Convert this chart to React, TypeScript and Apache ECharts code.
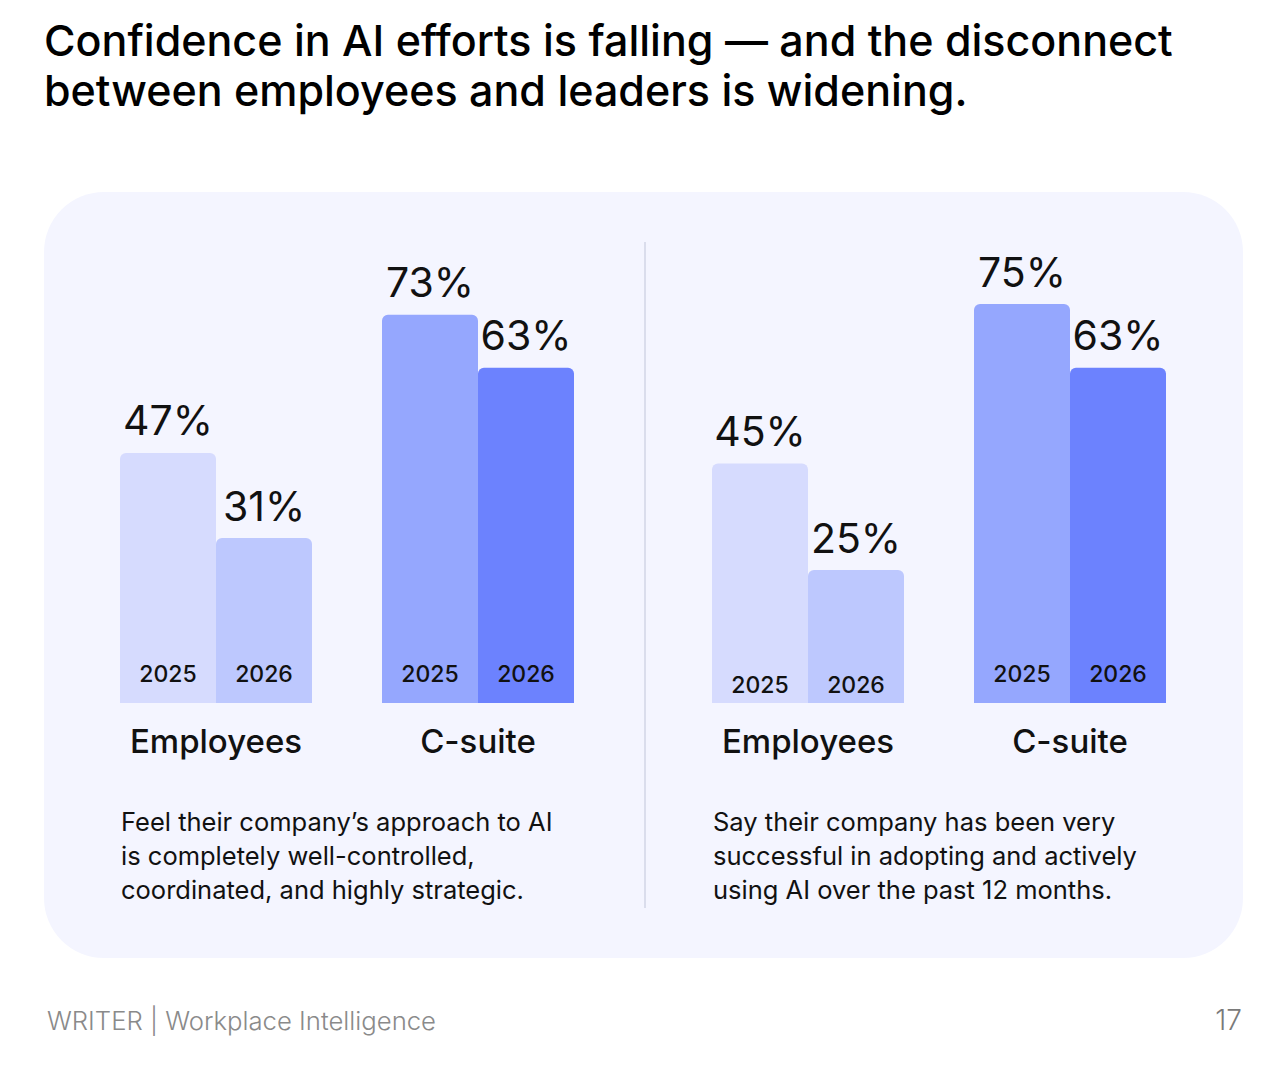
import { useEffect, useRef } from 'react';
import * as echarts from 'echarts';

// ---- data ----
const categories = ['Employees', 'C-suite'];
const years = ['2025', '2026'];
const controlled2025 = [47, 73];
const controlled2026 = [31, 63];
const adopted2025 = [45, 75];
const adopted2026 = [25, 63];

const title = [
  'Confidence in AI efforts is falling — and the disconnect',
  'between employees and leaders is widening.',
];
const leftNote = [
  'Feel their company’s approach to AI',
  'is completely well-controlled,',
  'coordinated, and highly strategic.',
];
const rightNote = [
  'Say their company has been very',
  'successful in adopting and actively',
  'using AI over the past 12 months.',
];
const footer = 'WRITER | Workplace Intelligence';
const pageNo = '17';

// ---- style ----
const FONT = 'Inter, "Noto Sans", sans-serif';
const barColors = [
  ['#D6DBFE', '#BDC8FE'], // employees 2025 / 2026
  ['#95A7FE', '#6C82FE'], // c-suite 2025 / 2026
];

const W = 1265;
const H = 1067;

function panelOption(idx: number, left: number, v2025: number[], v2026: number[], yearBottom: number[]) {
  const xMain = idx * 2;
  const xYear = idx * 2 + 1;
  const valueSeries = [v2025, v2026].map((vals, s) => ({
    type: 'bar',
    name: years[s],
    xAxisIndex: xMain,
    yAxisIndex: idx,
    barWidth: 96,
    barGap: '0%',
    data: vals.map((v, c) => ({ value: v, itemStyle: { color: barColors[c][s] } })),
    itemStyle: { borderRadius: [6, 6, 0, 0] },
    label: {
      show: true,
      position: 'top',
      distance: 12,
      formatter: '{c}%',
      fontFamily: FONT,
      fontSize: 41,
      fontWeight: 400,
      color: '#111111',
    },
  }));
  // invisible twin bars on a hidden axis, only to carry the year labels
  const yearSeries = [v2025, v2026].map((vals, s) => ({
    type: 'bar',
    name: years[s] + ' label',
    xAxisIndex: xYear,
    yAxisIndex: idx,
    barWidth: 96,
    barGap: '0%',
    silent: true,
    z: 5,
    data: vals.map((v, c) => ({
      value: v,
      label: { distance: yearBottom[c] },
    })),
    itemStyle: { color: 'rgba(0,0,0,0)' },
    label: {
      show: true,
      position: 'insideBottom',
      formatter: years[s],
      fontFamily: FONT,
      fontSize: 23,
      fontWeight: 500,
      color: '#111111',
    },
  }));
  const grid = { left, width: 524, top: 171, height: 532 };
  const xAxes = [
    {
      type: 'category',
      gridIndex: idx,
      data: categories,
      axisLine: { show: false },
      axisTick: { show: false },
      axisLabel: {
        margin: 21,
        fontFamily: FONT,
        fontSize: 33,
        fontWeight: 500,
        color: '#111111',
      },
    },
    { type: 'category', gridIndex: idx, data: categories, show: false },
  ];
  const yAxis = { type: 'value', gridIndex: idx, min: 0, max: 100, show: false };
  return { grid, xAxes, yAxis, series: [...valueSeries, ...yearSeries] };
}

function textLines(lines: string[], x: number, y: number, lh: number, size: number, weight: number, color: string) {
  return lines.map((t, i) => ({
    type: 'text',
    x,
    y: y + i * lh,
    style: {
      text: t,
      fontFamily: FONT,
      fontSize: size,
      fontWeight: weight,
      fill: color,
      verticalAlign: 'middle',
    },
  }));
}

export default function App() {
  const el = useRef<HTMLDivElement>(null);

  useEffect(() => {
    document.body.style.margin = '0';
    if (!el.current) return;
    const chart = echarts.init(el.current, undefined, { renderer: 'svg' });
    const L = panelOption(0, 85, controlled2025, controlled2026, [18, 18]);
    const R = panelOption(1, 677, adopted2025, adopted2026, [7, 18]);

    chart.setOption({
      animation: false,
      backgroundColor: '#FFFFFF',
      grid: [L.grid, R.grid],
      xAxis: [...L.xAxes, ...R.xAxes],
      yAxis: [L.yAxis, R.yAxis],
      series: [...L.series, ...R.series],
      graphic: [
        {
          type: 'rect',
          z: -10,
          shape: { x: 44, y: 192, width: 1199, height: 766, r: 60 },
          style: { fill: '#F4F5FF' },
        },
        {
          type: 'line',
          z: -5,
          shape: { x1: 645, y1: 242, x2: 645, y2: 908 },
          style: { stroke: '#DADDEC', lineWidth: 2 },
        },
        ...textLines(title, 44, 40, 50, 43, 500, '#000000'),
        ...textLines(leftNote, 121, 821, 34, 25.5, 400, '#111111'),
        ...textLines(rightNote, 713, 821, 34, 25.5, 400, '#111111'),
        {
          type: 'text',
          x: 47,
          y: 1020,
          style: { text: footer, fontFamily: FONT, fontSize: 25.7, fontWeight: 300, fill: '#8A8A8A', verticalAlign: 'middle' },
        },
        {
          type: 'text',
          x: 1242,
          y: 1020,
          style: { text: pageNo, fontFamily: FONT, fontSize: 28, fontWeight: 300, fill: '#7A7A7A', align: 'right', verticalAlign: 'middle' },
        },
      ],
    });
    return () => chart.dispose();
  }, []);

  return <div ref={el} style={{ width: W, height: H }} />;
}
